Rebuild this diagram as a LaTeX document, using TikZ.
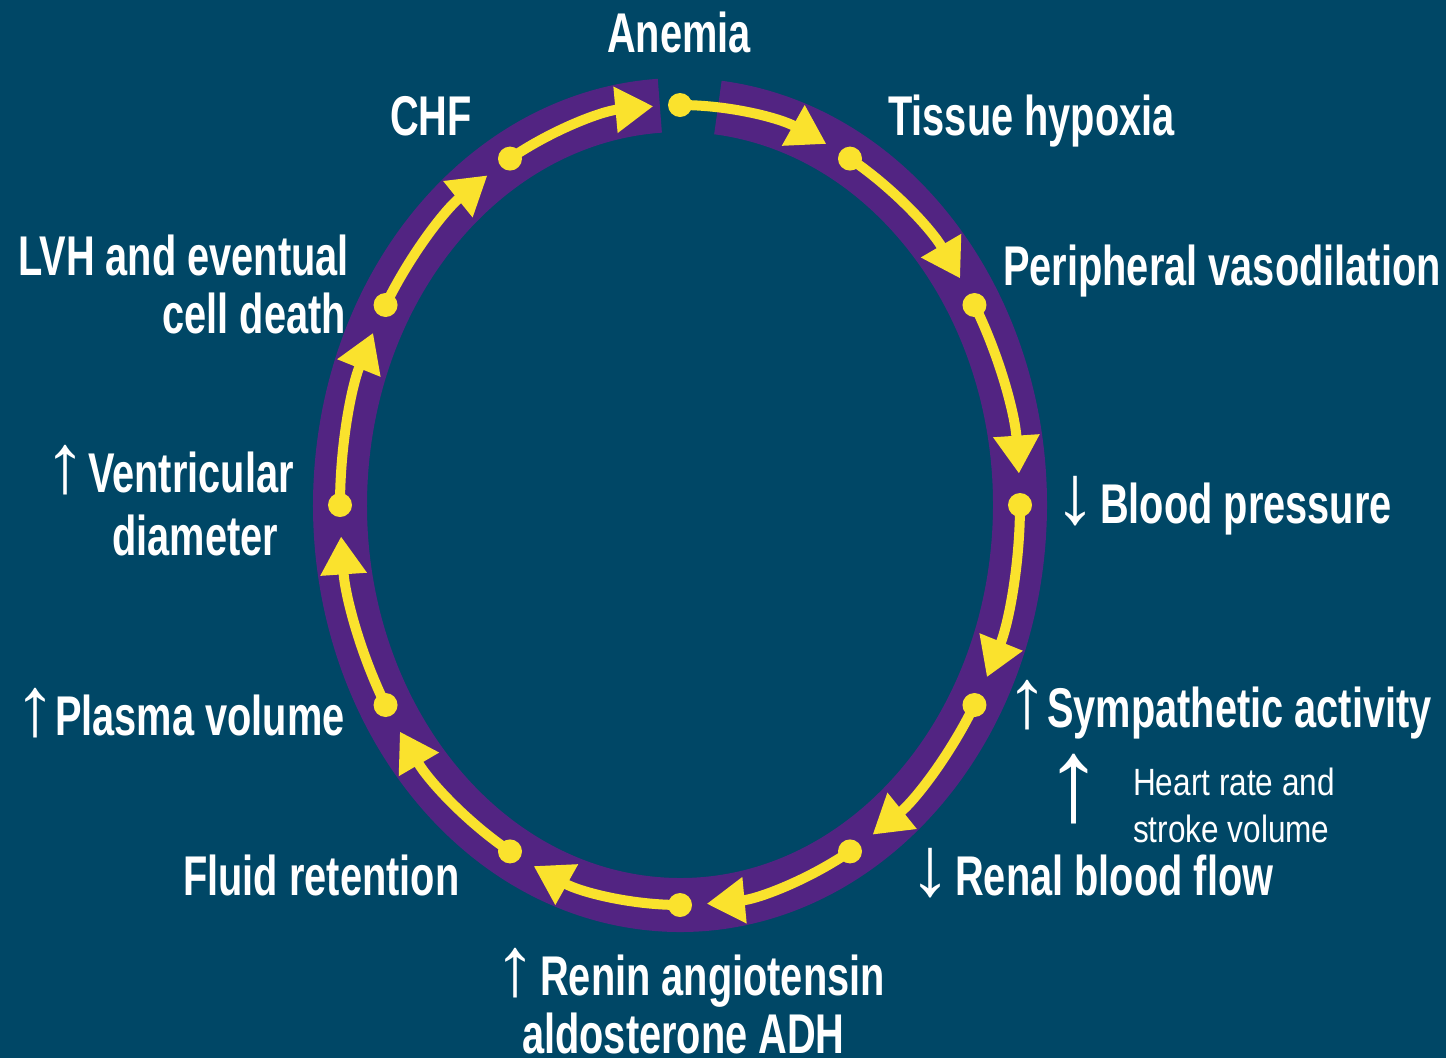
\documentclass[tikz,border=0pt]{standalone}
\usepackage{fontspec}
\setmainfont{Liberation Sans}
\newfontfamily\lblfont[FakeStretch=0.71]{Liberation Sans}
\newfontfamily\smlfont[FakeStretch=0.83]{Liberation Sans}
\newfontfamily\arrfont{Liberation Sans}
\usetikzlibrary{arrows.meta,calc}
\definecolor{bgc}{RGB}{0,71,102}
\definecolor{ringc}{RGB}{82,36,130}
\definecolor{flowc}{RGB}{250,226,45}
\newcommand{\uparr}[1]{\makebox[#1pt][l]{\kern-6pt\arrfont\bfseries\fontsize{84}{84}\selectfont ↑}}
\newcommand{\dnarr}[1]{\makebox[#1pt][l]{\kern-6pt\arrfont\bfseries\fontsize{84}{84}\selectfont ↓}}
\begin{document}
\begin{tikzpicture}[x=1pt,y=-1pt,
  lbl/.style={text=white, inner sep=0pt, anchor=base west, font=\lblfont\bfseries\fontsize{56}{60}\selectfont},
  sml/.style={text=white, inner sep=0pt, anchor=base west, font=\smlfont\fontsize{38}{42}\selectfont},
  ring/.style={draw=ringc, line width=54pt},
  flow/.style={draw=flowc, line width=10pt, -{Triangle[length=38pt,width=44pt]}},
  dot/.style={circle, fill=flowc, inner sep=0pt, minimum size=24pt}]
\fill[bgc] (0,0) rectangle (1446,1058);
\useasboundingbox (0,0) rectangle (1446,1058);
\coordinate (C) at (680,505);
% purple ring with gap at the top
\draw[ring] ($(C)+(276.4:340 and 400)$) arc[start angle=276.4, end angle=626.6, x radius=340, y radius=400];
% dots and yellow arrows
\foreach \k in {0,...,11} {
  \pgfmathsetmacro\s{-90+30*\k}
  \node[dot] (d\k) at ($(C)+(\s:340 and 400)$) {};
}
\foreach \k in {0,...,11} {
  \pgfmathsetmacro\s{-90+30*\k}
  \pgfmathsetmacro\e{\s+25.5}
  \draw[flow] (d\k.center) arc[start angle=\s, end angle=\e, x radius=340, y radius=400];
}
% labels
\node[lbl] (anemia) at (607,52) {Anemia};
\node[lbl] (chf) at (390,135) {CHF};
\node[lbl] (tissue) at (888,135) {Tissue hypoxia};
\node[lbl] (periph) at (1003,285) {Peripheral vasodilation};
\node[lbl, anchor=base east] (lvha) at (349,275) {LVH and eventual};
\node[lbl, anchor=base east] (lvhb) at (346,333) {cell death};
\node[lbl] (ventra) at (50,492) {\uparr{38}Ventricular};
\node[lbl] (ventrb) at (112,555) {diameter};
\node[lbl] (bp) at (1060,523) {\dnarr{40}Blood pressure};
\node[lbl] (symp) at (1012,727) {\uparr{35}Sympathetic activity};
\node[text=white, inner sep=0pt, anchor=base west, text height=64pt, text depth=0pt, font=\arrfont\fontsize{118}{118}\selectfont] (bigarr) at (1044,820) {↑};
\node[sml] (hra) at (1133,795) {Heart rate and};
\node[sml] (hrb) at (1133,842) {stroke volume};
\node[lbl] (renal) at (915,895) {\dnarr{40}Renal blood flow};
\node[lbl] (fluid) at (183,895) {Fluid retention};
\node[lbl] (plasma) at (20,735) {\uparr{35}Plasma volume};
\node[lbl] (renina) at (500,995) {\uparr{40}Renin angiotensin};
\node[lbl, text depth=0pt] (reninb) at (522,1053) {aldosterone ADH};
\end{tikzpicture}
\end{document}
